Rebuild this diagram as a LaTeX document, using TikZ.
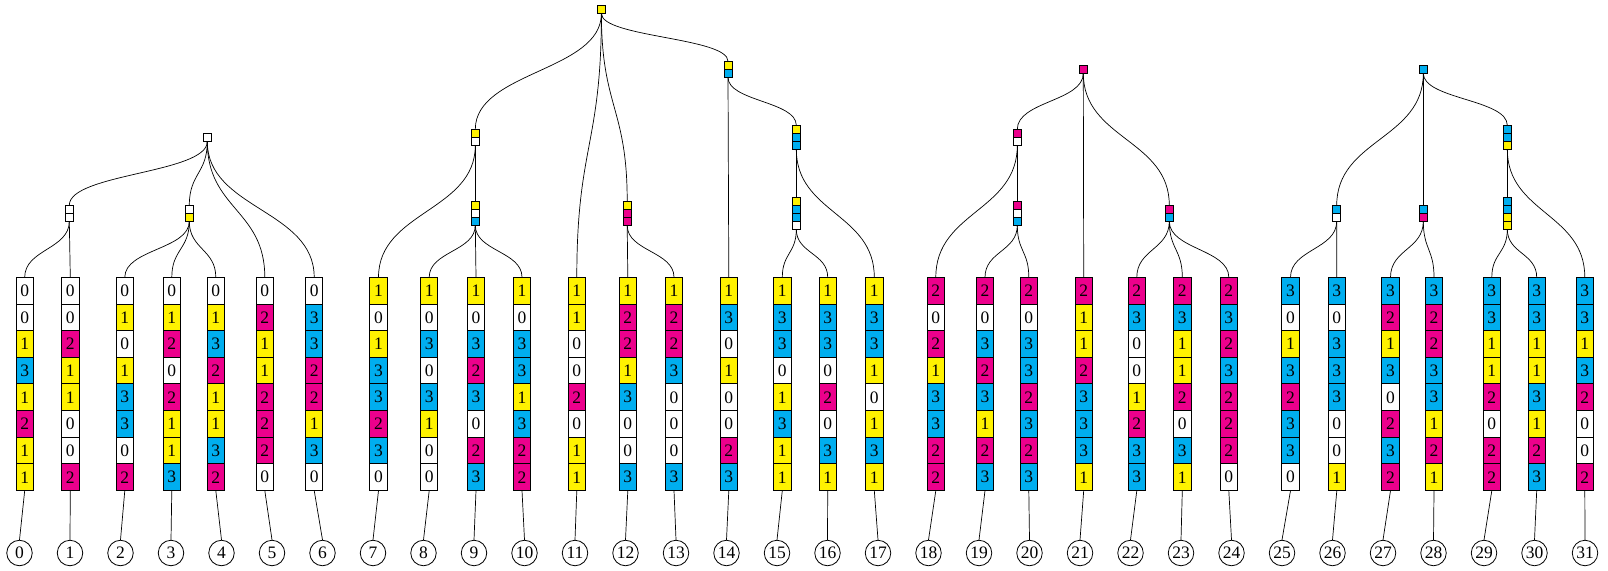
\documentclass[tikz,border=0pt]{standalone}
\usepackage{fontspec}
\setmainfont{Liberation Serif}
\usetikzlibrary{calc}
\definecolor{col0}{RGB}{255,255,255}
\definecolor{col1}{RGB}{255,242,0}
\definecolor{col2}{RGB}{236,0,140}
\definecolor{col3}{RGB}{0,174,239}
\tikzset{
  cell/.style={draw=black, line width=0.9pt, minimum width=17.3pt, minimum height=26.66pt, inner sep=0pt, font=\fontsize{17.5}{17.5}\selectfont},
  icell/.style={draw=black, line width=0.9pt, minimum width=8pt, minimum height=8pt, inner sep=0pt},
  frame/.style={inner sep=0pt, outer sep=0pt},
  leaf/.style={draw=black, line width=0.8pt, circle, minimum size=25.5pt, inner sep=0pt, font=\fontsize{17.5}{17.5}\selectfont},
  edge/.style={line width=0.7pt}
}
\newcommand\colmn[3]{%
  \node[frame, minimum width=17.3pt, minimum height=213.3pt] (k#1) at (#2, 383.95) {};
  \foreach \dg [count=\j from 0] in {#3} {\node[cell, fill=col\dg] (k#1c\j) at (#2, {290.63+26.66*\j}) {\dg};}
  \node[leaf] (l#1) at ({19.5+50.5*#1}, 553) {#1};
  \draw[edge] (k#1.south) -- (l#1.north);
}
\newcommand\inode[5]{%
  \node[frame, minimum width=8pt, minimum height={8pt*#4}] (#1) at (#2, #3) {};
  \foreach \dg [count=\j from 0] in {#5} {\node[icell, fill=col\dg] (#1c\j) at (#2, {#3-4*#4+8*\j+4}) {};}
}
\newcommand\tlink[2]{%
  \path ($(#1.south)!0.5!(#2.north)$) coordinate (mid);
  \draw[edge] (#1.south) .. controls (#1.south |- mid) and (#2.north |- mid) .. (#2.north);
}
\begin{document}
\begin{tikzpicture}[x=1pt, y=-1pt]
\useasboundingbox (0,0) rectangle (1608,570);
% columns
\colmn{0}{24.7}{0,0,1,3,1,2,1,1}
\colmn{1}{70.3}{0,0,2,1,1,0,0,2}
\colmn{2}{124.8}{0,1,0,1,3,3,0,2}
\colmn{3}{171.8}{0,1,2,0,2,1,1,3}
\colmn{4}{215.8}{0,1,3,2,1,1,3,2}
\colmn{5}{264.8}{0,2,1,1,2,2,2,0}
\colmn{6}{314.2}{0,3,3,2,2,1,3,0}
\colmn{7}{378.5}{1,0,1,3,3,2,3,0}
\colmn{8}{429.2}{1,0,3,0,3,1,0,0}
\colmn{9}{476}{1,0,3,2,3,0,2,3}
\colmn{10}{522}{1,0,3,3,1,3,2,2}
\colmn{11}{576.8}{1,1,0,0,2,0,1,1}
\colmn{12}{627.8}{1,2,2,1,3,0,0,3}
\colmn{13}{674}{1,2,2,3,0,0,0,3}
\colmn{14}{728.8}{1,3,0,1,0,0,2,3}
\colmn{15}{782.3}{1,3,3,0,1,3,1,1}
\colmn{16}{827.7}{1,3,3,0,2,0,3,1}
\colmn{17}{874.3}{1,3,3,1,0,1,3,1}
\colmn{18}{935.8}{2,0,2,1,3,3,2,2}
\colmn{19}{985}{2,0,3,2,3,1,2,3}
\colmn{20}{1028.8}{2,0,3,3,2,3,2,3}
\colmn{21}{1083.7}{2,1,1,2,3,3,3,1}
\colmn{22}{1136.8}{2,3,0,0,1,2,3,3}
\colmn{23}{1182.3}{2,3,1,1,2,0,3,1}
\colmn{24}{1228.8}{2,3,2,3,2,2,2,0}
\colmn{25}{1290.5}{3,0,1,3,2,3,3,0}
\colmn{26}{1336.8}{3,0,3,3,3,0,0,1}
\colmn{27}{1390.5}{3,2,1,3,0,2,3,2}
\colmn{28}{1434}{3,2,2,3,3,1,2,1}
\colmn{29}{1491.8}{3,3,1,1,2,0,2,2}
\colmn{30}{1536.7}{3,3,1,1,3,1,2,3}
\colmn{31}{1584.8}{3,3,1,3,2,0,0,2}
% internal nodes
\inode{A}{207.3}{137.5}{1}{0}
\inode{A1}{69.3}{213.3}{2}{0,0}
\inode{A2}{189.3}{213.3}{2}{0,1}
\inode{B}{601.4}{9.5}{1}{1}
\inode{B1}{475.3}{137.3}{2}{1,0}
\inode{B11}{475.3}{213.3}{3}{1,0,3}
\inode{B2}{627.2}{213.3}{3}{1,2,2}
\inode{B3}{728}{69.3}{2}{1,3}
\inode{B31}{796.3}{137.3}{3}{1,3,3}
\inode{B311}{796.3}{213.3}{4}{1,3,3,0}
\inode{C}{1083.3}{69.3}{1}{2}
\inode{C1}{1017.3}{137.3}{2}{2,0}
\inode{C11}{1017.3}{213.3}{3}{2,0,3}
\inode{C2}{1169.3}{213.3}{2}{2,3}
\inode{D}{1423.3}{69.3}{1}{3}
\inode{D1}{1336.7}{213.3}{2}{3,0}
\inode{D2}{1423.3}{213.3}{2}{3,2}
\inode{D3}{1507.3}{137.3}{3}{3,3,1}
\inode{D31}{1507.3}{213.3}{4}{3,3,1,1}
% edges
\tlink{A}{A1}\tlink{A}{A2}\tlink{A}{k5}\tlink{A}{k6}
\tlink{A1}{k0}\tlink{A1}{k1}
\tlink{A2}{k2}\tlink{A2}{k3}\tlink{A2}{k4}
\tlink{B}{B1}\tlink{B}{k11}\tlink{B}{B2}\tlink{B}{B3}
\tlink{B1}{k7}\tlink{B1}{B11}
\tlink{B11}{k8}\tlink{B11}{k9}\tlink{B11}{k10}
\tlink{B2}{k12}\tlink{B2}{k13}
\tlink{B3}{k14}\tlink{B3}{B31}
\tlink{B31}{B311}\tlink{B31}{k17}
\tlink{B311}{k15}\tlink{B311}{k16}
\tlink{C}{C1}\tlink{C}{k21}\tlink{C}{C2}
\tlink{C1}{k18}\tlink{C1}{C11}
\tlink{C11}{k19}\tlink{C11}{k20}
\tlink{C2}{k22}\tlink{C2}{k23}\tlink{C2}{k24}
\tlink{D}{D1}\tlink{D}{D2}\tlink{D}{D3}
\tlink{D1}{k25}\tlink{D1}{k26}
\tlink{D2}{k27}\tlink{D2}{k28}
\tlink{D3}{D31}\tlink{D3}{k31}
\tlink{D31}{k29}\tlink{D31}{k30}
\end{tikzpicture}
\end{document}
